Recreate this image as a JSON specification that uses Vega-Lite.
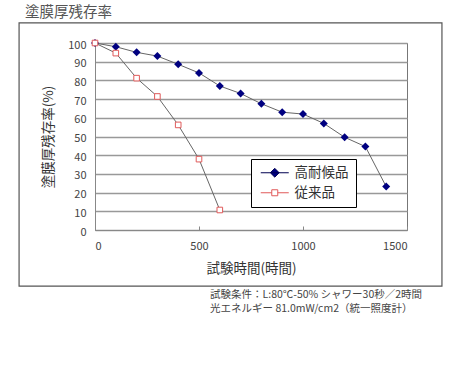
{
  "$schema": "https://vega.github.io/schema/vega-lite/v6.json",
  "autosize": "none",
  "width": 312,
  "height": 187,
  "padding": {"left": 95, "top": 43, "right": 54, "bottom": 153},
  "background": "white",
  "title": {
    "text": "塗膜厚残存率",
    "anchor": "start",
    "frame": "group",
    "dx": -70,
    "dy": 2,
    "fontSize": 14.5,
    "fontWeight": "normal",
    "color": "#555555",
    "offset": 4
  },
  "config": {
    "font": "Noto Sans CJK JP",
    "view": {"stroke": "#777777", "strokeWidth": 1},
    "axisX": {
      "grid": false,
      "domainColor": "#888888",
      "tickColor": "#888888",
      "tickSize": -4,
      "labelPadding": 14,
      "labelFontSize": 11,
      "labelColor": "#444444",
      "labelOverlap": false,
      "titleFontSize": 13.5,
      "titleFontWeight": "normal",
      "titleColor": "#333333",
      "titlePadding": 10
    },
    "axisY": {
      "grid": true,
      "gridColor": "#999999",
      "gridWidth": 1.5,
      "domainColor": "#888888",
      "ticks": false,
      "labelPadding": 9,
      "labelOffset": 2,
      "labelFontSize": 11,
      "labelColor": "#444444",
      "labelOverlap": false,
      "titleFontSize": 13.5,
      "titleFontWeight": "normal",
      "titleColor": "#333333",
      "titlePadding": 12
    }
  },
  "datasets": {
    "main": [
      {"series": "高耐候品", "t": 0, "v": 100},
      {"series": "高耐候品", "t": 100, "v": 98},
      {"series": "高耐候品", "t": 200, "v": 95},
      {"series": "高耐候品", "t": 300, "v": 93},
      {"series": "高耐候品", "t": 400, "v": 88.6},
      {"series": "高耐候品", "t": 500, "v": 84},
      {"series": "高耐候品", "t": 600, "v": 77},
      {"series": "高耐候品", "t": 700, "v": 73},
      {"series": "高耐候品", "t": 800, "v": 67.5},
      {"series": "高耐候品", "t": 900, "v": 63},
      {"series": "高耐候品", "t": 1000, "v": 62},
      {"series": "高耐候品", "t": 1100, "v": 57},
      {"series": "高耐候品", "t": 1200, "v": 49.6},
      {"series": "高耐候品", "t": 1300, "v": 44.6},
      {"series": "高耐候品", "t": 1400, "v": 23.2},
      {"series": "従来品", "t": 0, "v": 100},
      {"series": "従来品", "t": 100, "v": 94.6},
      {"series": "従来品", "t": 200, "v": 81.2},
      {"series": "従来品", "t": 300, "v": 71.4},
      {"series": "従来品", "t": 400, "v": 56.2},
      {"series": "従来品", "t": 500, "v": 37.9},
      {"series": "従来品", "t": 600, "v": 10.7}
    ],
    "frame": [{"name": "frame"}],
    "note": [{"note": "試験条件：L:80℃-50% シャワー30秒／2時間\n光エネルギー 81.0mW/cm2（統一照度計）"}]
  },
  "layer": [
    {
      "data": {"name": "main"},
      "mark": {"type": "line", "color": "#666666", "strokeWidth": 1},
      "encoding": {
        "x": {
          "field": "t", "type": "quantitative",
          "scale": {"domain": [0, 1500], "nice": false, "zero": false},
          "axis": {"values": [0, 500, 1000, 1500], "format": "d", "title": "試験時間(時間)"}
        },
        "y": {
          "field": "v", "type": "quantitative",
          "scale": {"domain": [0, 100], "nice": false},
          "axis": {"values": [0, 10, 20, 30, 40, 50, 60, 70, 80, 90, 100], "format": "d", "title": "塗膜厚残存率(%)"}
        },
        "detail": {"field": "series"},
        "opacity": {
          "field": "series", "type": "ordinal",
          "scale": {"domain": ["高耐候品", "従来品"], "range": [1, 1]},
          "legend": {
            "title": null,
            "orient": "none",
            "legendX": 156,
            "legendY": 116,
            "strokeColor": "#000000",
            "fillColor": "#ffffff",
            "padding": 7,
            "cornerRadius": 0,
            "symbolSize": 64,
            "symbolOffset": 10,
            "symbolStrokeWidth": 1,
            "labelOffset": 13,
            "labelFontSize": 13.5,
            "labelColor": "#333333",
            "rowPadding": 5,
            "encoding": {
              "symbols": {
                "shape": {"value": {"expr": "datum.value === '高耐候品' ? 'M-3.5,0H3.5M0,-1.1L1.1,0L0,1.1L-1.1,0Z' : 'M-3.5,0H-0.75M0.75,0H3.5M-0.75,-0.75H0.75V0.75H-0.75Z'"}},
                "fill": {"value": {"expr": "datum.value === '高耐候品' ? '#000080' : '#ffffff'"}},
                "stroke": {"value": {"expr": "datum.value === '高耐候品' ? '#000050' : '#e05a5a'"}},
                "strokeWidth": {"value": 1},
                "opacity": {"value": 1}
              }
            }
          }
        }
      }
    },
    {
      "data": {"name": "main"},
      "transform": [{"filter": "datum.series === '高耐候品'"}],
      "mark": {"type": "point", "shape": "diamond", "filled": true, "color": "#000080", "opacity": 1, "size": 64},
      "encoding": {
        "x": {"field": "t", "type": "quantitative", "axis": {"values": [0, 500, 1000, 1500], "format": "d", "title": "試験時間(時間)"}},
        "y": {"field": "v", "type": "quantitative", "axis": {"values": [0, 10, 20, 30, 40, 50, 60, 70, 80, 90, 100], "format": "d", "title": "塗膜厚残存率(%)"}}
      }
    },
    {
      "data": {"name": "main"},
      "transform": [{"filter": "datum.series === '従来品'"}],
      "mark": {"type": "point", "shape": "M-0.7,-0.7H0.7V0.7H-0.7Z", "fill": "#ffffff", "stroke": "#e05a5a", "strokeWidth": 1, "opacity": 1, "size": 64},
      "encoding": {
        "x": {"field": "t", "type": "quantitative", "axis": {"values": [0, 500, 1000, 1500], "format": "d", "title": "試験時間(時間)"}},
        "y": {"field": "v", "type": "quantitative", "axis": {"values": [0, 10, 20, 30, 40, 50, 60, 70, 80, 90, 100], "format": "d", "title": "塗膜厚残存率(%)"}}
      }
    },
    {
      "data": {"name": "frame"},
      "mark": {"type": "rect", "fill": "transparent", "stroke": "#555555", "strokeWidth": 1.2},
      "encoding": {
        "x": {"datum": -365, "axis": {"values": [0, 500, 1000, 1500], "format": "d", "title": "試験時間(時間)"}},
        "x2": {"datum": 1668},
        "y": {"datum": 110.8, "axis": {"values": [0, 10, 20, 30, 40, 50, 60, 70, 80, 90, 100], "format": "d", "title": "塗膜厚残存率(%)"}},
        "y2": {"datum": -30}
      }
    },
    {
      "data": {"name": "note"},
      "mark": {"type": "text", "align": "left", "baseline": "top", "lineBreak": "\n", "fontSize": 10.5, "lineHeight": 14, "color": "#444444"},
      "encoding": {
        "x": {"datum": 553, "axis": {"values": [0, 500, 1000, 1500], "format": "d", "title": "試験時間(時間)"}},
        "y": {"datum": -32, "axis": {"values": [0, 10, 20, 30, 40, 50, 60, 70, 80, 90, 100], "format": "d", "title": "塗膜厚残存率(%)"}},
        "text": {"field": "note"}
      }
    }
  ]
}
